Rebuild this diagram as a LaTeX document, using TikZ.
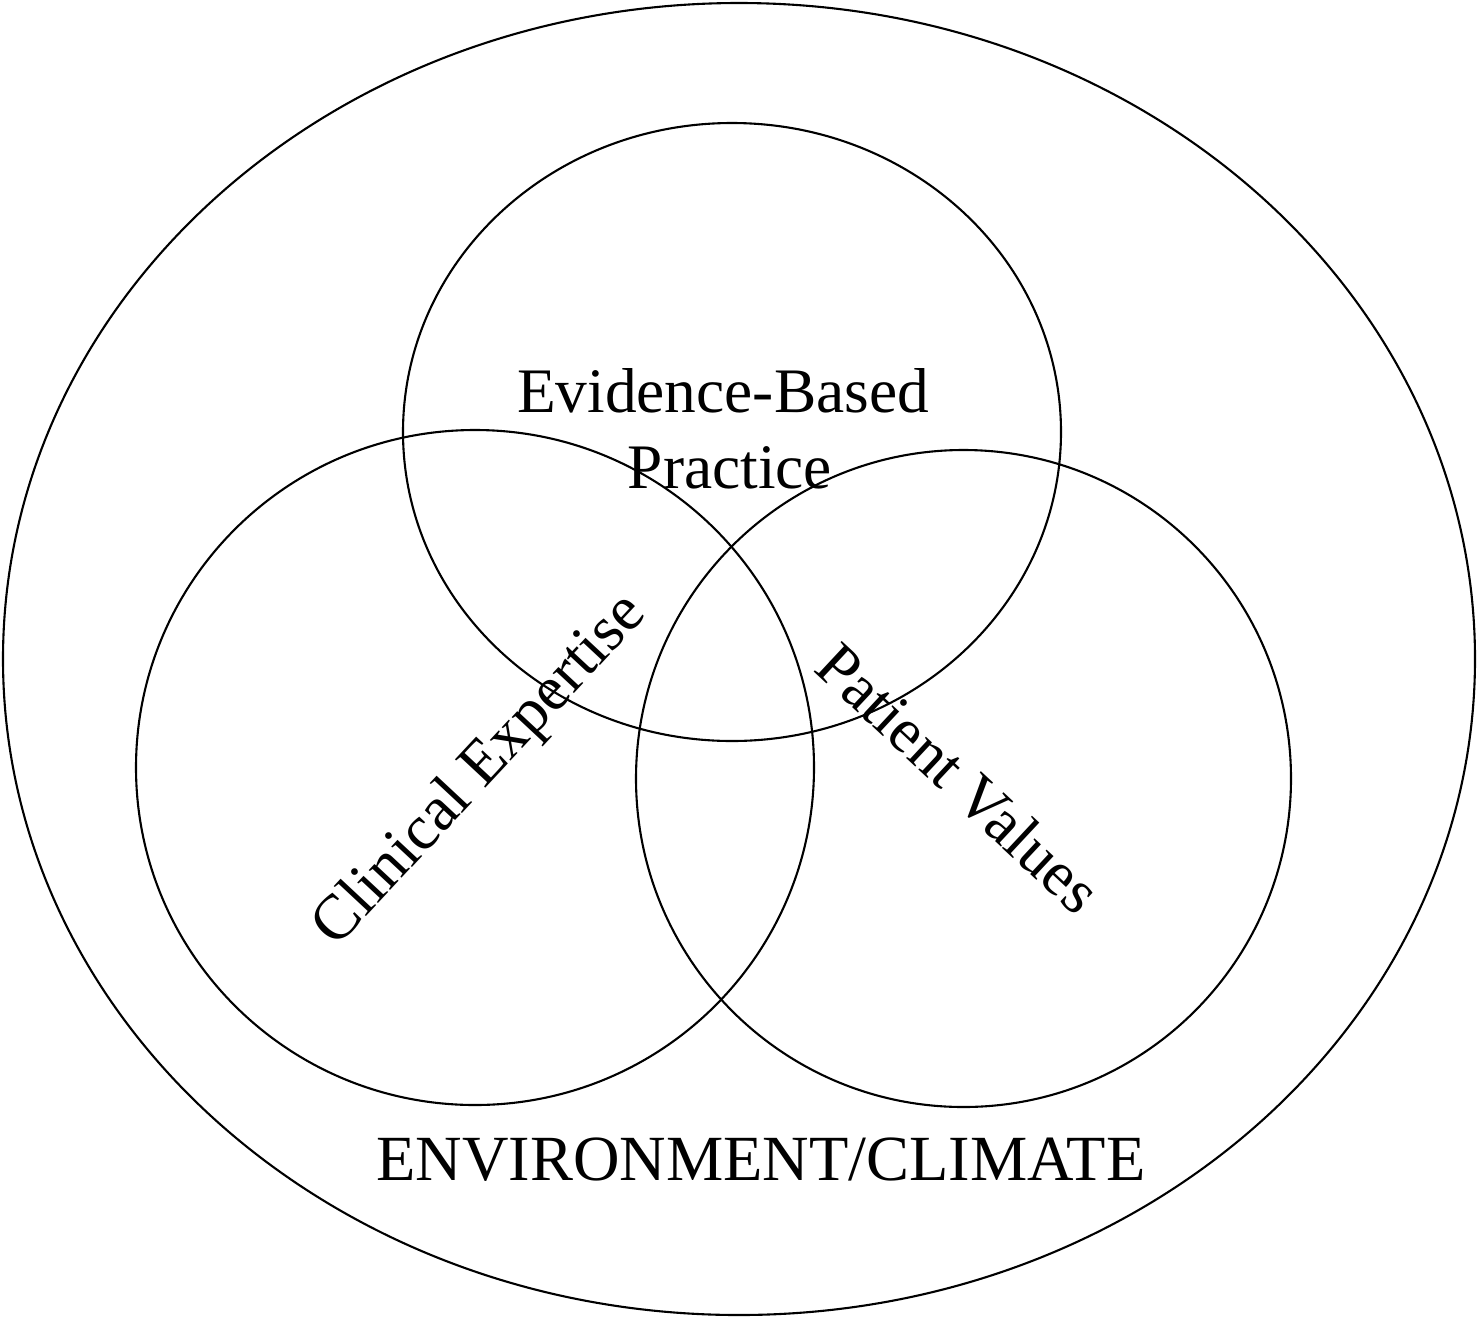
\documentclass[tikz,border=0pt]{standalone}
\usepackage{fontspec}
\setmainfont{Liberation Serif}
\begin{document}
\begin{tikzpicture}[x=0.5pt,y=-0.5pt,
  ring/.style={draw=black,line width=1.05pt},
  lbl/.style={font=\fontsize{31.7pt}{36pt}\selectfont,inner sep=0pt,align=center}]
\useasboundingbox (0,0) rectangle (1477,1318);
\draw[ring] (739,659) ellipse [x radius=736, y radius=656];
\draw[ring] (732,432) ellipse [x radius=329, y radius=309];
\draw[ring] (475,767.5) ellipse [x radius=339, y radius=337.5];
\draw[ring] (963.5,778.5) ellipse [x radius=327.5, y radius=328.5];
\node[lbl,anchor=base] (ebp) at (723,412) {Evidence-Based};
\node[lbl,anchor=base] (ebpb) at (730,488) {Practice};
\node[lbl,rotate=47] (ce) at (481,771) {Clinical Expertise};
\node[lbl,rotate=-43] (pv) at (959,778) {Patient Values};
\node[lbl,font=\fontsize{32.2pt}{36pt}\selectfont] (env) at (761,1160) {ENVIRONMENT/CLIMATE};
\end{tikzpicture}
\end{document}
